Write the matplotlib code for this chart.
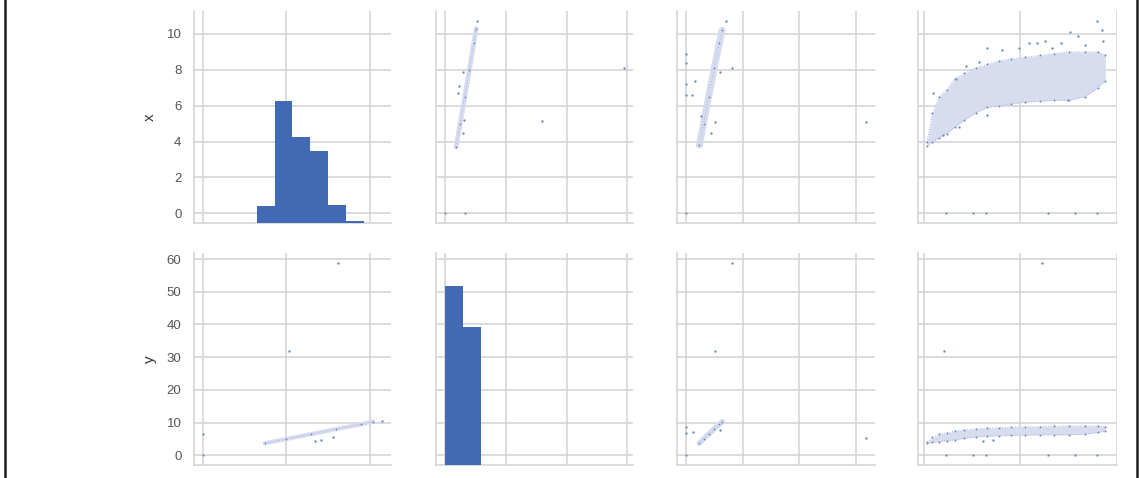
import numpy as np
import matplotlib
matplotlib.use("Agg")
import matplotlib.pyplot as plt
from matplotlib.lines import Line2D

plt.rcParams['font.family'] = ['Liberation Sans', 'DejaVu Sans']

# ---------------- data ----------------
row_vars = ["x", "y"]
col_vars = ["x", "y", "z", "price"]

# variable ranges (min, max)
x_range = (0.0, 10.74)
y_range = (0.0, 58.9)
z_range = (0.0, 31.8)
price_range = (326, 18823)

# diagonal histograms (10 bins over each variable's range)
x_hist_counts = [8, 0, 0, 2920, 20800, 14620, 12200, 3090, 280, 30]
y_hist_counts = [30400, 23500, 0, 0, 1, 0, 0, 0, 0, 1]

# x vs y
xy_band_y = [3.65, 5.0, 6.5, 8.05, 9.5, 10.3]
xy_band_x = [3.7, 5.0, 6.5, 8.0, 9.5, 10.3]
xy_pts_y = [58.9, 31.8, 0.0, 6.62, 10.54, 5.9, 4.6, 4.3, 6.3, 6.0]
xy_pts_x = [8.09, 5.12, 0.0, 0.0, 10.74, 7.9, 7.1, 6.7, 5.2, 4.5]

# x vs z
xz_band_z = [2.35, 3.1, 4.0, 5.0, 5.9, 6.4]
xz_band_x = [3.8, 5.0, 6.5, 8.1, 9.5, 10.2]
xz_pts_z = [31.8, 0.0, 0.0, 0.0, 0.0, 0.0, 1.1, 1.6, 8.06, 6.0, 4.4, 5.1, 2.7, 7.0]
xz_pts_x = [5.1, 8.9, 8.4, 7.2, 6.6, 0.0, 6.6, 7.4, 8.09, 7.9, 4.5, 5.1, 5.4, 10.74]

# x vs price
band_price = [330, 900, 1600, 2400, 3200, 4200, 5400, 6500, 7800, 9000,
              10500, 12000, 13500, 15000, 16700, 18000, 18800]
x_upper = [3.95, 5.6, 6.5, 6.9, 7.5, 7.8, 8.1, 8.3, 8.5, 8.6,
           8.7, 8.8, 8.9, 9.0, 9.0, 9.0, 8.8]
x_lower = [3.75, 4.0, 4.2, 4.45, 4.8, 5.2, 5.6, 5.9, 6.0, 6.1,
           6.2, 6.25, 6.3, 6.3, 6.5, 7.0, 7.4]
xp_pts_price = [6590, 8120, 9825, 10850, 11700, 12550, 13230, 14250, 15110,
                15960, 16640, 17930, 18410, 18510, 5740, 4380, 3360, 965,
                6590, 3690, 1990, 14930,
                2334, 5124, 6487, 12823, 15620, 17930]
xp_pts_x = [9.2, 9.1, 9.2, 9.5, 9.5, 9.6, 9.2, 9.5, 10.1,
            9.9, 9.4, 10.74, 10.2, 9.6, 8.45, 8.2, 7.5, 6.7,
            5.5, 4.8, 4.35, 6.3,
            0.0, 0.0, 0.0, 0.0, 0.0, 0.0]

# y vs x
yx_band_x = [3.7, 5.0, 6.5, 8.0, 9.5, 10.2]
yx_band_y = [3.7, 5.0, 6.5, 8.05, 9.5, 10.3]
yx_pts_x = [8.09, 5.15, 0.0, 0.0, 10.74, 6.7, 7.1, 7.8]
yx_pts_y = [58.9, 31.8, 6.62, 0.0, 10.54, 4.3, 4.6, 5.5]

# y vs z
yz_band_z = [2.35, 3.1, 4.0, 5.0, 5.9, 6.4]
yz_band_y = [3.7, 5.0, 6.5, 8.1, 9.5, 10.3]
yz_pts_z = [8.06, 5.12, 0.0, 0.0, 1.2, 31.8, 6.0, 0.0]
yz_pts_y = [58.9, 31.8, 8.6, 6.8, 7.1, 5.2, 7.7, 0.0]

# y vs price
y_upper = [4.0, 5.5, 6.4, 6.9, 7.4, 7.8, 8.1, 8.3, 8.5, 8.6,
           8.7, 8.8, 8.9, 9.0, 9.0, 9.0, 8.8]
y_lower = [3.7, 4.0, 4.2, 4.45, 4.8, 5.2, 5.6, 5.9, 6.0, 6.1,
           6.2, 6.25, 6.3, 6.3, 6.5, 7.0, 7.4]
yp_pts_price = [12210, 2075, 6150, 7170, 2334, 5124, 6487, 12823, 15620, 17930]
yp_pts_y = [58.9, 31.8, 4.3, 4.6, 0.0, 0.0, 0.0, 0.0, 0.0, 0.0]

ranges = {"x": x_range, "y": y_range, "z": z_range, "price": price_range}
xticks = {"x": [0, 5, 10], "y": [0, 20, 40, 60], "z": [0, 10, 20, 30],
          "price": [0, 10000, 20000]}
yticks = {"x": [0, 2, 4, 6, 8, 10], "y": [0, 10, 20, 30, 40, 50, 60]}

# ---------------- style ----------------
GRID = "#d2d2d6"
DOT = "#5f7fc0"
BAND = "#d7ddef"
BAND_EDGE = "#a7b6dc"
HIST = "#4169b4"

W, H = 1139, 478
fig = plt.figure(figsize=(W / 100, H / 100), dpi=100)
fig.patch.set_facecolor("white")

col_px = [(194, 391), (436, 633), (677, 875), (918, 1117)]
row_px = [(11, 223), (253, 465)]


def lim(r):
    span = r[1] - r[0]
    return (r[0] - 0.05 * span, r[1] + 0.05 * span)


def dots(ax, xs, ys, s=3.5):
    ax.scatter(xs, ys, s=s, c=DOT, edgecolors="white", linewidths=0.2, zorder=3)


def thin_band(ax, bx, by, lw):
    ax.plot(bx, by, color=BAND, lw=lw, solid_capstyle="round", zorder=2)
    ax.plot(bx, by, color=BAND_EDGE, lw=0.7, ls=(0, (1, 2)), zorder=2)
    dots(ax, bx, by, s=2.5)


def wide_band(ax, bp, lo, hi):
    ax.fill_between(bp, lo, hi, color=BAND, lw=0, zorder=2)
    ax.plot(bp, hi, color=BAND_EDGE, lw=0.7, ls=(0, (1, 1.6)), zorder=2)
    ax.plot(bp, lo, color=BAND_EDGE, lw=0.7, ls=(0, (1, 1.6)), zorder=2)
    dots(ax, bp, hi, s=2.5)
    dots(ax, bp, lo, s=2.5)


axes = {}
for i, rv in enumerate(row_vars):
    for j, cv in enumerate(col_vars):
        l, r = col_px[j]
        t, b = row_px[i]
        ax = fig.add_axes([l / W, 1 - b / H, (r - l) / W, (b - t) / H])
        ax.set_xlim(lim(ranges[cv]))
        ax.set_ylim(lim(ranges[rv]))
        ax.set_xticks(xticks[cv])
        ax.set_yticks(yticks[rv])
        ax.grid(True, color=GRID, lw=1.1)
        ax.set_axisbelow(True)
        for side in ("top", "right"):
            ax.spines[side].set_visible(False)
        for side in ("left", "bottom"):
            ax.spines[side].set_color(GRID)
            ax.spines[side].set_linewidth(1.1)
        ax.tick_params(length=0, labelsize=9.5, labelcolor="#555555", pad=9,
                       labelbottom=False, labelleft=(j == 0))
        if j == 0:
            ax.set_ylabel(rv, fontsize=11, color="#333333")
            ax.yaxis.set_label_coords(-0.19, 0.5)
        axes[(rv, cv)] = ax

# diagonal histograms on hidden twin axes
for var, counts in (("x", x_hist_counts), ("y", y_hist_counts)):
    ax = axes[(var, var)]
    hax = ax.twinx()
    hax.set_axis_off()
    edges = np.linspace(ranges[var][0], ranges[var][1], len(counts) + 1)
    hax.hist(edges[:-1], bins=edges, weights=counts, color=HIST, lw=0)
    hax.set_ylim(0, 36000)

# off-diagonal panels
ax = axes[("x", "y")]
thin_band(ax, xy_band_y, xy_band_x, 3.5)
dots(ax, xy_pts_y, xy_pts_x)

ax = axes[("x", "z")]
thin_band(ax, xz_band_z, xz_band_x, 5)
dots(ax, xz_pts_z, xz_pts_x)

ax = axes[("x", "price")]
wide_band(ax, band_price, x_lower, x_upper)
dots(ax, xp_pts_price, xp_pts_x)

ax = axes[("y", "x")]
thin_band(ax, yx_band_x, yx_band_y, 3)
dots(ax, yx_pts_x, yx_pts_y)

ax = axes[("y", "z")]
thin_band(ax, yz_band_z, yz_band_y, 4)
dots(ax, yz_pts_z, yz_pts_y)

ax = axes[("y", "price")]
wide_band(ax, band_price, y_lower, y_upper)
dots(ax, yp_pts_price, yp_pts_y)

# window frame edges
for xpix in (4.5, 1136.5):
    fig.add_artist(Line2D([xpix / W, xpix / W], [0, 1], color="#1e1e1e", lw=1.8))

fig.savefig("out.png", dpi=100, facecolor=fig.get_facecolor())
